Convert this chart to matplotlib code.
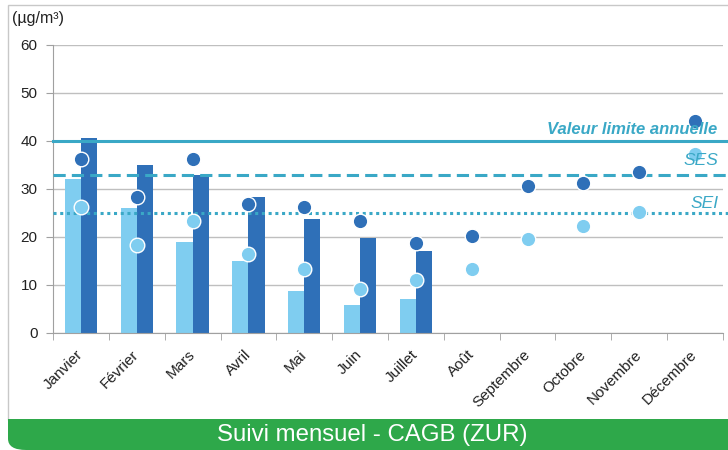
import matplotlib
matplotlib.use("Agg")
import matplotlib.pyplot as plt
from matplotlib.patches import FancyBboxPatch, Rectangle
import numpy as np

plt.rcParams['font.family'] = ['Liberation Sans', 'DejaVu Sans']

months = ["Janvier", "Février", "Mars", "Avril", "Mai", "Juin", "Juillet",
          "Août", "Septembre", "Octobre", "Novembre", "Décembre"]
bars_light = [32.0, 26.0, 19.0, 15.1, 8.8, 5.8, 7.0]
bars_dark = [40.7, 35.0, 33.0, 28.4, 23.8, 19.7, 17.1]
dots_dark = [36.2, 28.3, 36.2, 26.8, 26.2, 23.3, 18.8, 20.3, 30.6, 31.2, 33.6, 44.2]
dots_light = [26.2, 18.3, 23.3, 16.4, 13.3, 9.2, 11.1, 13.3, 19.6, 22.3, 25.3, 37.3]
limit_value = 40
ses_value = 33
sei_value = 25
yticks = [0, 10, 20, 30, 40, 50, 60]

light = "#7FCDF0"
dark = "#2F70B8"
teal = "#3AA8C6"
green = "#2EA84A"

W, H = 728, 450
fig = plt.figure(figsize=(7.28, 4.5), dpi=100)

# outer frame
fig.patches.append(Rectangle((8/W, 30/H), 1.0, 1 - 5/H - 30/H,
                             transform=fig.transFigure, fill=False,
                             edgecolor="#C8C8C8", linewidth=1.0))
# green footer band (rounded bottom-left only)
band_h = 31/H
fig.patches.append(FancyBboxPatch((8/W, 0.0), 1.0, band_h,
                                  boxstyle="round,pad=0,rounding_size=0.025",
                                  transform=fig.transFigure,
                                  facecolor=green, edgecolor="none"))
fig.patches.append(Rectangle((8/W, band_h/2), 1.0, band_h/2,
                             transform=fig.transFigure, facecolor=green, edgecolor="none"))
fig.patches.append(Rectangle((30/W, 0.0), 1.0, band_h,
                             transform=fig.transFigure, facecolor=green, edgecolor="none"))
fig.text(372/W, 15/H, "Suivi mensuel - CAGB (ZUR)", color="white",
         ha="center", va="center", fontsize=17.3)

ax = fig.add_axes([53/W, 1 - 333/H, 670/W, 288/H])
x = np.arange(len(months))
w = 0.29
xb = np.arange(len(bars_light))
ax.bar(xb - w/2, bars_light, width=w, color=light, zorder=2)
ax.bar(xb + w/2, bars_dark, width=w, color=dark, zorder=2)

xr = [-0.5, 11.6]
ax.plot(xr, [limit_value]*2, color=teal, lw=2.2, zorder=3, clip_on=False)
ax.plot(xr, [ses_value]*2, color=teal, lw=2.2, ls=(0, (4, 2)), zorder=3, clip_on=False)
ax.plot(xr, [sei_value]*2, color=teal, lw=2.2, ls=(0, (1, 1.2)), zorder=3, clip_on=False)

ax.plot(x, dots_dark, 'o', color=dark, ms=10.5, mec="white", mew=1.0, zorder=4)
ax.plot(x, dots_light, 'o', color=light, ms=10.5, mec="white", mew=1.0, zorder=4)

ax.text(11.4, limit_value + 0.9, "Valeur limite annuelle", color=teal,
        fontsize=12, fontweight="bold", style="italic", ha="right", va="bottom", zorder=5)
ax.text(11.42, ses_value + 1.4, "SES", color=teal, fontsize=12.5, style="italic",
        ha="right", va="bottom", zorder=5)
ax.text(11.42, sei_value + 0.5, "SEI", color=teal, fontsize=12.5, style="italic",
        ha="right", va="bottom", zorder=5)

ax.set_xlim(-0.5, 11.5)
ax.set_ylim(0, 60)
ax.set_yticks(yticks)
ax.tick_params(axis='y', labelsize=11, colors="#222222", length=5, color="#A0A0A0", pad=6)
ax.yaxis.grid(True, color="#BFBFBF", lw=1.0, zorder=0)
ax.set_axisbelow(True)

ax.set_xticks(x)
ax.set_xticklabels(months, rotation=45, ha="right", va="center", rotation_mode="anchor",
                   fontsize=11, color="#222222")
ax.tick_params(axis='x', length=0, pad=14)
ax.set_xticks(np.arange(-0.5, 12, 1), minor=True)
ax.tick_params(axis='x', which='minor', length=5, color="#A0A0A0")

for s in ["top", "right"]:
    ax.spines[s].set_visible(False)
ax.spines["left"].set_color("#A0A0A0")
ax.spines["bottom"].set_color("#A0A0A0")

fig.text(12/W, 1 - 19/H, "(µg/m³)", fontsize=11.5, color="#222222", va="center")

fig.savefig("out.png", dpi=100)
